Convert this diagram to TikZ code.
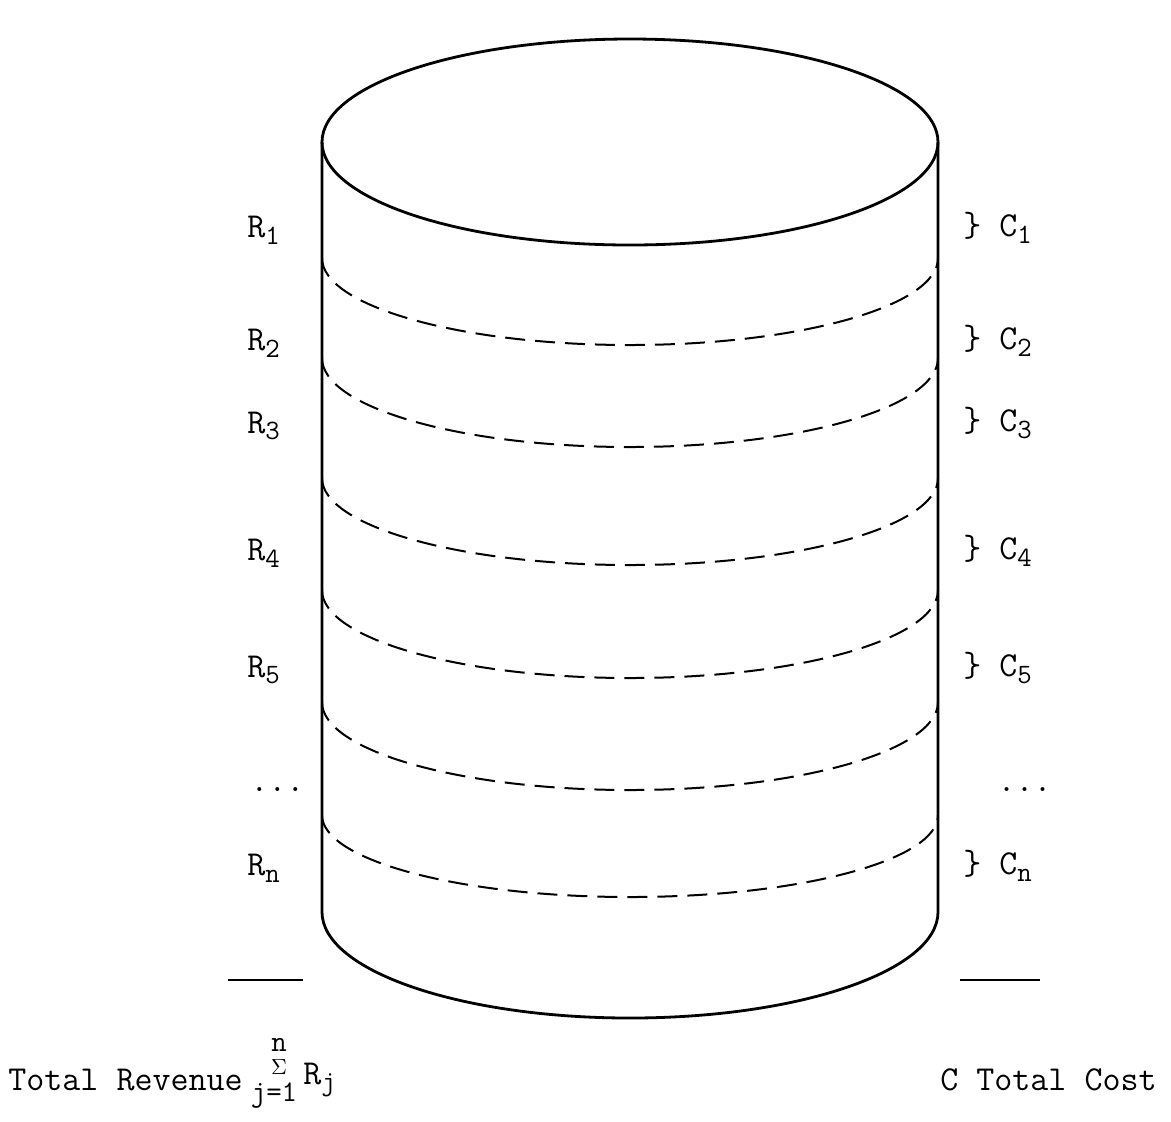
\documentclass[tikz,border=0pt]{standalone}
\usepackage{fontspec}
\usetikzlibrary{positioning}

\newcommand{\lowix}[1]{\raisebox{-0.45ex}{\fontsize{14}{14}\selectfont #1}}

\begin{document}
\begin{tikzpicture}[x=0.5pt, y=-0.5pt,
  outline/.style={line width=1.4pt, line join=round},
  layer/.style  ={line width=1pt, dash pattern=on 10pt off 5pt},
  lbl/.style    ={font=\ttfamily\fontsize{17.5}{20}\selectfont, inner sep=0pt},
  small/.style  ={font=\ttfamily\fontsize{15}{16}\selectfont, inner sep=0pt},
  rule/.style   ={line width=1pt},
]
\useasboundingbox (0,0) rectangle (1171,1121);

% cylinder
\draw[outline] (630,142) ellipse [x radius=308, y radius=103];
\draw[outline] (322,142) -- (322,912)
  arc[start angle=180, end angle=0, x radius=308, y radius=106]
  -- (938,142);

% layer boundaries
\foreach \yc/\ry in {258/87, 358/89, 478/87, 590/88, 702/88, 815/82}
  \draw[layer] (322,\yc) arc[start angle=180, end angle=0, x radius=308, y radius=\ry];

% revenues
\node[lbl, anchor=west] (rev1) at (247,230) {R\lowix{1}};
\node[lbl, anchor=west] (rev2) at (247,343) {R\lowix{2}};
\node[lbl, anchor=west] (rev3) at (247,426) {R\lowix{3}};
\node[lbl, anchor=west] (rev4) at (247,553) {R\lowix{4}};
\node[lbl, anchor=west] (rev5) at (247,670) {R\lowix{5}};
\node[lbl, anchor=west] (revd) at (250,790) {...};
\node[lbl, anchor=west] (revn) at (247,868) {R\lowix{n}};

% costs
\node[lbl, anchor=west] (cost1) at (963,228) {\} C\lowix{1}};
\node[lbl, anchor=west] (cost2) at (963,341) {\} C\lowix{2}};
\node[lbl, anchor=west] (cost3) at (963,423) {\} C\lowix{3}};
\node[lbl, anchor=west] (cost4) at (963,551) {\} C\lowix{4}};
\node[lbl, anchor=west] (cost5) at (963,668) {\} C\lowix{5}};
\node[lbl, anchor=east] (costd) at (1052,790) {...};
\node[lbl, anchor=west] (costn) at (963,866) {\} C\lowix{n}};

% totals
\coordinate (revl) at (228,980);
\coordinate (revr) at (303,980);
\coordinate (costl) at (960,980);
\coordinate (costr) at (1040,980);
\draw[rule] (revl) -- (revr);
\draw[rule] (costl) -- (costr);

\node[lbl, anchor=west] (totrev) at (8,1080) {Total Revenue};
\node[small] (sigtop) at (279,1045) {n};
\node[small] (sigma) at (279,1067) {$\scriptstyle\Sigma$};
\node[small] (sigbot) at (274,1096) {j=1};
\node[lbl, anchor=west] (rj) at (303,1080) {R\lowix{j}};
\node[lbl, anchor=east] (totcost) at (1157,1080) {C Total Cost};
\end{tikzpicture}
\end{document}
